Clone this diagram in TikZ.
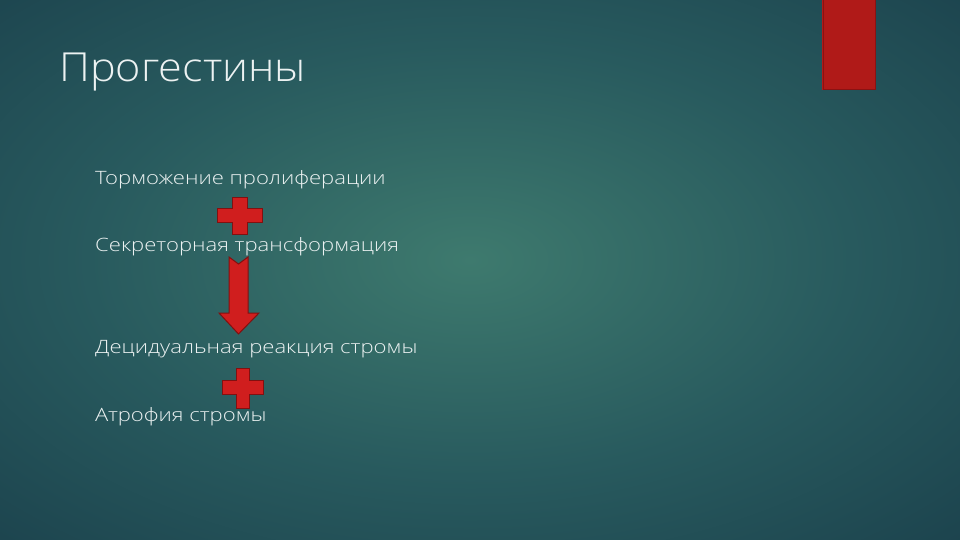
\documentclass[tikz,border=0pt]{standalone}
\usepackage{fontspec}
\setmainfont{Open Sans Light}
\newfontfamily\bodyfont{Open Sans Light}[FakeStretch=1.2]
\newfontfamily\titlefont{Open Sans Light}[FakeStretch=1.08]
\definecolor{bgin}{RGB}{62,122,110}
\definecolor{bgmid}{RGB}{40,90,94}
\definecolor{bgout}{RGB}{18,48,64}
\definecolor{barred}{RGB}{176,26,24}
\definecolor{crossred}{RGB}{208,30,30}
\definecolor{crossedge}{RGB}{130,16,16}
\definecolor{txt}{RGB}{236,242,242}
\pgfdeclareradialshading{bgshade}{\pgfpoint{0bp}{0bp}}{color(0bp)=(bgin); color(18bp)=(bgmid); color(46bp)=(bgout); color(75bp)=(bgout)}
\tikzset{
  item/.style={anchor=base west, text=txt, inner sep=0pt, font=\bodyfont\fontsize{18.4}{21}\selectfont},
  ttlstyle/.style={anchor=base west, text=txt, inner sep=0pt, font=\titlefont\fontsize{40}{46}\selectfont},
  redshape/.style={fill=crossred, draw=crossedge, line width=1pt},
}
\begin{document}
\begin{tikzpicture}[x=1pt,y=-1pt]
\useasboundingbox (0,0) rectangle (960,540);
\shade[shading=bgshade] (-60,-40) rectangle (1000,560);
\fill[barred] (822,0) rectangle (876,90);
\draw[crossedge!80!barred, line width=0.8pt] (823,0) -- (823,89.5) -- (875,89.5) -- (875,0);
\node[ttlstyle] (title) at (59,82) {Прогестины};
\node[item] (t1) at (95,184) {Торможение пролиферации};
\node[item] (t2) at (95,251) {Секреторная трансформация};
\node[item] (t3) at (95,353) {Децидуальная реакция стромы};
\node[item] (t4) at (95,421) {Атрофия стромы};
% cross 1
\draw[redshape] (232,197) -- (247,197) -- (247,208) -- (262,208) -- (262,222) -- (247,222) -- (247,234) -- (232,234) -- (232,222) -- (217,222) -- (217,208) -- (232,208) -- cycle;
% arrow
\draw[redshape] (229,257) -- (238.5,264) -- (248,257) -- (248,313) -- (259,313) -- (238.5,334) -- (219,313) -- (229,313) -- cycle;
% cross 2
\draw[redshape] (236,368) -- (249,368) -- (249,380) -- (263,380) -- (263,394) -- (249,394) -- (249,408) -- (236,408) -- (236,394) -- (222,394) -- (222,380) -- (236,380) -- cycle;
\end{tikzpicture}
\end{document}
